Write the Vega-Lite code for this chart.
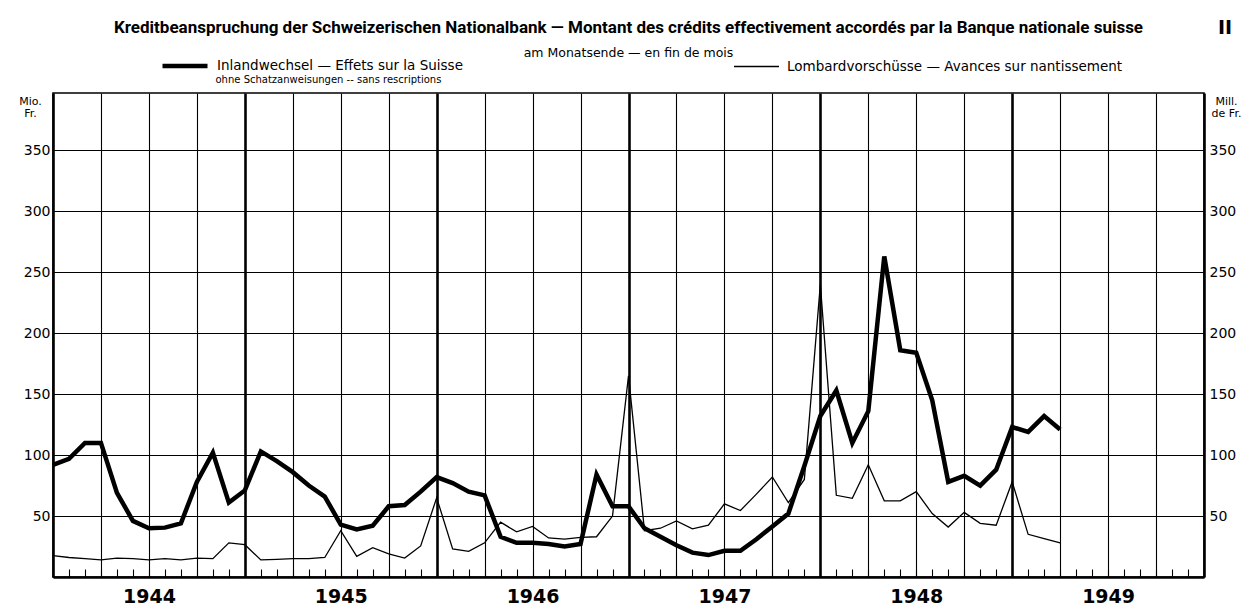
{
  "$schema": "https://vega.github.io/schema/vega-lite/v6.json",
  "width": 1151,
  "height": 484,
  "autosize": {"type": "none"},
  "padding": {"left": 53, "top": 93, "right": 54, "bottom": 35},
  "background": "white",
  "config": {
    "view": {"stroke": "black", "strokeWidth": 1.5},
    "font": "DejaVu Sans",
    "legend": {"padding": 0}
  },
  "title": {
    "text": "Kreditbeanspruchung der Schweizerischen Nationalbank — Montant des crédits effectivement accordés par la Banque nationale suisse",
    "subtitle": "am Monatsende — en fin de mois",
    "font": "Roboto",
    "fontSize": 17,
    "fontWeight": "bold",
    "color": "black",
    "subtitleFont": "DejaVu Sans",
    "subtitleFontSize": 12.5,
    "subtitleColor": "black",
    "subtitlePadding": 10,
    "anchor": "middle",
    "frame": "group",
    "offset": -19
  },
  "data": {
    "values": [
      {"t":0,"serie":"Inland","v":92},{"t":1,"serie":"Inland","v":97},{"t":2,"serie":"Inland","v":110},{"t":3,"serie":"Inland","v":110},
      {"t":4,"serie":"Inland","v":69},{"t":5,"serie":"Inland","v":46},{"t":6,"serie":"Inland","v":40},{"t":7,"serie":"Inland","v":40.5},
      {"t":8,"serie":"Inland","v":44},{"t":9,"serie":"Inland","v":78},{"t":10,"serie":"Inland","v":102},{"t":11,"serie":"Inland","v":61},
      {"t":12,"serie":"Inland","v":71},{"t":13,"serie":"Inland","v":103},{"t":14,"serie":"Inland","v":95},{"t":15,"serie":"Inland","v":86},
      {"t":16,"serie":"Inland","v":75},{"t":17,"serie":"Inland","v":66},{"t":18,"serie":"Inland","v":43},{"t":19,"serie":"Inland","v":39},
      {"t":20,"serie":"Inland","v":42},{"t":21,"serie":"Inland","v":58},{"t":22,"serie":"Inland","v":59},{"t":23,"serie":"Inland","v":70},
      {"t":24,"serie":"Inland","v":82},{"t":25,"serie":"Inland","v":77},{"t":26,"serie":"Inland","v":70},{"t":27,"serie":"Inland","v":67},
      {"t":28,"serie":"Inland","v":33},{"t":29,"serie":"Inland","v":28},{"t":30,"serie":"Inland","v":28},{"t":31,"serie":"Inland","v":27},
      {"t":32,"serie":"Inland","v":25},{"t":33,"serie":"Inland","v":27},{"t":34,"serie":"Inland","v":84},{"t":35,"serie":"Inland","v":58},
      {"t":36,"serie":"Inland","v":58},{"t":37,"serie":"Inland","v":40},{"t":38,"serie":"Inland","v":33},{"t":39,"serie":"Inland","v":26},
      {"t":40,"serie":"Inland","v":20},{"t":41,"serie":"Inland","v":18},{"t":42,"serie":"Inland","v":21.5},{"t":43,"serie":"Inland","v":21.5},
      {"t":44,"serie":"Inland","v":31},{"t":45,"serie":"Inland","v":41.5},{"t":46,"serie":"Inland","v":52},{"t":47,"serie":"Inland","v":91},
      {"t":48,"serie":"Inland","v":132},{"t":49,"serie":"Inland","v":153},{"t":50,"serie":"Inland","v":110},{"t":51,"serie":"Inland","v":136},
      {"t":52,"serie":"Inland","v":263},{"t":53,"serie":"Inland","v":186},{"t":54,"serie":"Inland","v":184},{"t":55,"serie":"Inland","v":145},
      {"t":56,"serie":"Inland","v":78},{"t":57,"serie":"Inland","v":83},{"t":58,"serie":"Inland","v":75},{"t":59,"serie":"Inland","v":88},
      {"t":60,"serie":"Inland","v":123},{"t":61,"serie":"Inland","v":119},{"t":62,"serie":"Inland","v":132},{"t":63,"serie":"Inland","v":121},
      {"t":0,"serie":"Lombard","v":17.5},{"t":1,"serie":"Lombard","v":16},{"t":2,"serie":"Lombard","v":15},{"t":3,"serie":"Lombard","v":14},
      {"t":4,"serie":"Lombard","v":15.5},{"t":5,"serie":"Lombard","v":15},{"t":6,"serie":"Lombard","v":14},{"t":7,"serie":"Lombard","v":15},
      {"t":8,"serie":"Lombard","v":14},{"t":9,"serie":"Lombard","v":15.5},{"t":10,"serie":"Lombard","v":15},{"t":11,"serie":"Lombard","v":28},
      {"t":12,"serie":"Lombard","v":26.5},{"t":13,"serie":"Lombard","v":14},{"t":14,"serie":"Lombard","v":14.5},{"t":15,"serie":"Lombard","v":15},
      {"t":16,"serie":"Lombard","v":15},{"t":17,"serie":"Lombard","v":16},{"t":18,"serie":"Lombard","v":38},{"t":19,"serie":"Lombard","v":17},
      {"t":20,"serie":"Lombard","v":24},{"t":21,"serie":"Lombard","v":19},{"t":22,"serie":"Lombard","v":15.5},{"t":23,"serie":"Lombard","v":25.5},
      {"t":24,"serie":"Lombard","v":65},{"t":25,"serie":"Lombard","v":23},{"t":26,"serie":"Lombard","v":21},{"t":27,"serie":"Lombard","v":28},
      {"t":28,"serie":"Lombard","v":45},{"t":29,"serie":"Lombard","v":37},{"t":30,"serie":"Lombard","v":41.5},{"t":31,"serie":"Lombard","v":32},
      {"t":32,"serie":"Lombard","v":31},{"t":33,"serie":"Lombard","v":32.5},{"t":34,"serie":"Lombard","v":33},{"t":35,"serie":"Lombard","v":50},
      {"t":36,"serie":"Lombard","v":165},{"t":37,"serie":"Lombard","v":38},{"t":38,"serie":"Lombard","v":40},{"t":39,"serie":"Lombard","v":46},
      {"t":40,"serie":"Lombard","v":39.5},{"t":41,"serie":"Lombard","v":42.5},{"t":42,"serie":"Lombard","v":60},{"t":43,"serie":"Lombard","v":54.5},
      {"t":44,"serie":"Lombard","v":68},{"t":45,"serie":"Lombard","v":82},{"t":46,"serie":"Lombard","v":61},{"t":47,"serie":"Lombard","v":80},
      {"t":48,"serie":"Lombard","v":240},{"t":49,"serie":"Lombard","v":67},{"t":50,"serie":"Lombard","v":64.5},{"t":51,"serie":"Lombard","v":92},
      {"t":52,"serie":"Lombard","v":62.5},{"t":53,"serie":"Lombard","v":62.5},{"t":54,"serie":"Lombard","v":70},{"t":55,"serie":"Lombard","v":52},
      {"t":56,"serie":"Lombard","v":41},{"t":57,"serie":"Lombard","v":53},{"t":58,"serie":"Lombard","v":44},{"t":59,"serie":"Lombard","v":42.5},
      {"t":60,"serie":"Lombard","v":78},{"t":61,"serie":"Lombard","v":35},{"t":62,"serie":"Lombard","v":31.5},{"t":63,"serie":"Lombard","v":28}
    ]
  },
  "encoding": {
    "y": {"field": "v", "type": "quantitative", "scale": {"domain": [0, 397], "nice": false, "zero": true}},
    "strokeWidth": {
      "field": "serie", "type": "ordinal",
      "scale": {"domain": ["Inland", "Lombard"], "range": [4.5, 1.3]},
      "legend": {
        "orient": "none", "legendX": 107, "legendY": -52,
        "direction": "horizontal",
        "symbolType": "stroke", "symbolSize": 2025, "symbolStrokeColor": "black",
        "labelExpr": "datum.label === 'Inland' ? 'Inlandwechsel — Effets sur la Suisse' : 'Lombardvorschüsse — Avances sur nantissement'",
        "labelFont": "DejaVu Sans", "labelFontSize": 13.5, "labelColor": "black", "labelLimit": 500, "labelOffset": 7,
        "columnPadding": 268,
        "title": ["II", ""], "titleOrient": "right", "titlePadding": 96, "titleFontSize": 19, "titleFontWeight": "bold", "titleColor": "black",
        "titleBaseline": "bottom", "titleLineHeight": 40
      }
    }
  },
  "layer": [
    {
      "transform": [{"filter": "datum.serie === 'Inland'"}],
      "mark": {"type": "line", "color": "black", "strokeJoin": "miter"},
      "encoding": {
        "x": {
          "field": "t", "type": "quantitative",
          "scale": {"domain": [0, 72], "nice": false, "zero": false},
          "axis": {
            "values": [0,1,2,3,4,5,6,7,8,9,10,11,12,13,14,15,16,17,18,19,20,21,22,23,24,25,26,27,28,29,30,31,32,33,34,35,36,37,38,39,40,41,42,43,44,45,46,47,48,49,50,51,52,53,54,55,56,57,58,59,60,61,62,63,64,65,66,67,68,69,70,71,72],
            "grid": true, "gridColor": "black",
            "gridOpacity": {"condition": {"test": "datum.value % 3 === 0", "value": 1}, "value": 0},
            "gridWidth": {"condition": {"test": "datum.value % 12 === 0", "value": 2.6}, "value": 1.1},
            "ticks": true, "tickSize": -8, "tickColor": "black", "tickWidth": 1.1,
            "domain": true, "domainColor": "black", "domainWidth": 2.5,
            "labelExpr": "datum.value % 12 === 6 ? '' + (1944 + floor(datum.value / 12)) : ''",
            "labelPadding": 18, "labelFontSize": 19, "labelFontWeight": "bold", "labelColor": "black",
            "labelFlush": false, "labelOverlap": false, "labelBound": false,
            "title": null
          }
        },
        "y": {
          "field": "v", "type": "quantitative",
          "axis": {
            "values": [50, 100, 150, 200, 250, 300, 350],
            "grid": true, "gridColor": "black", "gridWidth": 1.1,
            "ticks": false, "domain": false,
            "labelFontSize": 14, "labelPadding": 3, "labelColor": "black",
            "title": ["Mio.", "Fr."], "titleAngle": 0, "titleAlign": "center", "titleBaseline": "top",
            "titleX": -23, "titleY": 2, "titleFontSize": 11, "titleFontWeight": "normal", "titleColor": "black", "titleLineHeight": 12
          }
        }
      }
    },
    {
      "transform": [{"filter": "datum.serie === 'Lombard'"}],
      "mark": {"type": "line", "color": "black", "strokeJoin": "miter"},
      "encoding": {
        "x": {
          "field": "t", "type": "quantitative",
          "axis": {
            "orient": "top", "labels": false, "ticks": false, "domain": false, "grid": false,
            "title": "ohne Schatzanweisungen -- sans rescriptions",
            "titleX": 162, "titleY": -11, "titleAlign": "left", "titleAnchor": "start", "titleBaseline": "alphabetic",
            "titleFontSize": 10, "titleFontWeight": "normal", "titleColor": "black"
          }
        },
        "y": {
          "field": "v", "type": "quantitative",
          "axis": {
            "orient": "right",
            "values": [50, 100, 150, 200, 250, 300, 350],
            "grid": false, "ticks": false, "domain": false,
            "labelFontSize": 14, "labelPadding": 5, "labelColor": "black",
            "title": ["Mill.", "de Fr."], "titleAngle": 0, "titleAlign": "center", "titleBaseline": "top",
            "titleX": 22, "titleY": 2, "titleFontSize": 11, "titleFontWeight": "normal", "titleColor": "black", "titleLineHeight": 12
          }
        }
      }
    }
  ],
  "resolve": {"axis": {"x": "independent", "y": "independent"}}
}
